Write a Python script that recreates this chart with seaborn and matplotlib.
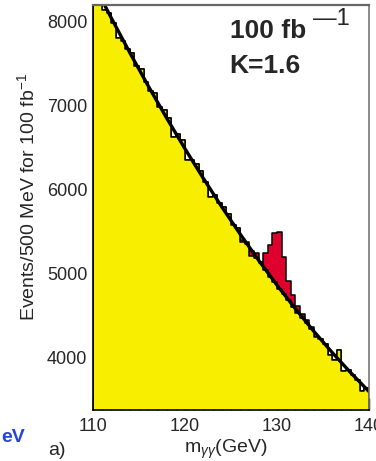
import numpy as np
import pandas as pd
import matplotlib
matplotlib.use("Agg")
import matplotlib.pyplot as plt
import seaborn as sns
from matplotlib.ticker import MultipleLocator

sns.set_style("white")
plt.rcParams['font.family'] = ['Liberation Sans', 'DejaVu Sans']
plt.rcParams['mathtext.fontset'] = 'custom'
plt.rcParams['mathtext.rm'] = 'Liberation Sans'
plt.rcParams['mathtext.it'] = 'Liberation Sans:italic'

# --- data ---
# background histogram, 500 MeV bins from 110 to 140 GeV
bkg_events = [8410, 8300, 8145, 8105, 7985, 7808, 7775, 7674, 7633, 7473,
              7434, 7286, 7179, 7153, 6988, 6948, 6854, 6627, 6665, 6589,
              6354, 6355, 6302, 6219, 6093, 5917, 5943, 5839, 5796, 5714,
              5583, 5547, 5383, 5355, 5217, 5190, 5125, 5050, 4966, 4903,
              4825, 4759, 4689, 4609, 4540, 4473, 4416, 4345, 4245, 4220,
              4167, 4035, 3978, 4092, 3843, 3854, 3796, 3739, 3602, 3637]

# signal + background in the peak region (bins from 126.0 GeV on)
peak_start = 126.0
peak_events = [5398, 5375, 5277, 5250, 5140, 5246, 5345, 5484,
               5496, 5206, 4920, 4750, 4615, 4520, 4450, 4370]

# background fit curve
fit_mass = [110, 112, 114, 116, 118, 120, 122, 124, 126, 128, 130, 132, 134, 136, 138, 140]
fit_events = [8467, 8043, 7633, 7237, 6856, 6489, 6136, 5797, 5473, 5162,
              4866, 4585, 4317, 4064, 3825, 3600]

bin_w = 0.5
n_bins = len(bkg_events)
df = pd.DataFrame({"mass": 110 + bin_w * (np.arange(n_bins) + 0.5), "bkg": bkg_events})
df["total"] = df["bkg"].astype(float)
k0 = int(round((peak_start - 110) / bin_w))
df.loc[k0:k0 + len(peak_events) - 1, "total"] = peak_events

W, H = 376, 461
fig = plt.figure(figsize=(W / 100, H / 100), dpi=100)
ax = fig.add_axes([93 / W, 1 - 410 / H, 276 / W, 405 / H])

# signal+background (red) under the background (yellow)
hist_kw = dict(x="mass", binwidth=bin_w, binrange=(110, 140), element="step",
               fill=True, edgecolor="black", linewidth=1.1, alpha=1, ax=ax)
sns.histplot(data=df, weights="total", color="#e0002d", **hist_kw)
sns.histplot(data=df, weights="bkg", color="#f7ee00", **hist_kw)
sns.lineplot(x=fit_mass, y=fit_events, color="black", linewidth=2.4, ax=ax)

ax.set_xlim(110, 140)
ax.set_ylim(3380, 8200)
ax.set_xlabel("")
ax.set_ylabel("")

ax.xaxis.set_major_locator(MultipleLocator(10))
ax.xaxis.set_minor_locator(MultipleLocator(1))
ax.yaxis.set_major_locator(MultipleLocator(1000))
ax.yaxis.set_minor_locator(MultipleLocator(100))
ax.tick_params(which="both", direction="in", top=False, right=False,
               bottom=True, left=True, color="black", width=1.0)
ax.tick_params(which="major", length=8.5, labelsize=13)
ax.tick_params(axis="x", which="major", pad=6)
ax.tick_params(axis="y", which="major", pad=4)
ax.tick_params(which="minor", length=4)

for side in ["left", "bottom"]:
    ax.spines[side].set_color("black")
    ax.spines[side].set_linewidth(1.2)
ax.spines["top"].set_color("#666666")
ax.spines["top"].set_linewidth(1.6)
ax.spines["right"].set_color("#777777")
ax.spines["right"].set_linewidth(1.2)

# labels
fig.text(27 / W, 1 - 197 / H, "Events/500 MeV for 100 fb$^{-1}$", rotation=90,
         ha="center", va="center", fontsize=14)
fig.text(226 / W, 1 - 453 / H, r"m$_{\gamma\gamma}$(GeV)", ha="center",
         va="baseline", fontsize=14)
fig.text(48 / W, 1 - 455 / H, "a)", ha="left", va="baseline", fontsize=14)
fig.text(25 / W, 1 - 442 / H, "eV", ha="right", va="baseline", fontsize=14,
         fontweight="bold", color="#2346d6")

# luminosity / K-factor note
fig.text(230 / W, 1 - 38 / H, "100 fb", ha="left", va="baseline", fontsize=19,
         fontweight="bold")
fig.text(313 / W, 1 - 25 / H, "\u20141", ha="left", va="baseline", fontsize=17)
fig.text(229 / W, 1 - 73 / H, "K=1.6", ha="left", va="baseline", fontsize=19,
         fontweight="bold")

fig.savefig("out.png", dpi=100)
